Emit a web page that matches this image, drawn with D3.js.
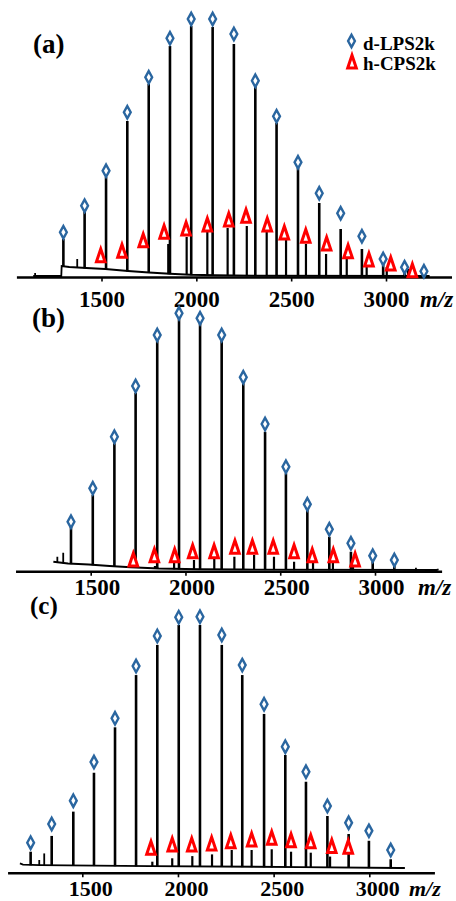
<!DOCTYPE html>
<html>
<head>
<meta charset="utf-8">
<script src="https://cdnjs.cloudflare.com/ajax/libs/d3/7.8.5/d3.min.js"></script>
<style>
  html, body { margin: 0; padding: 0; background: #fff; }
  svg { display: block; }
</style>
</head>
<body>
<svg id="chart" width="456" height="901"></svg>
<script>
// ---------------- DATA ----------------
const tickValues = [1500, 2000, 2500, 3000];
const axisTitle = "m/z";
const panelLabels = ["(a)", "(b)", "(c)"];
const legendLabels = ["d-LPS2k", "h-CPS2k"];

// Panel (a)
const aDMz   = [1299, 1411, 1524, 1636, 1749, 1861, 1973, 2086, 2198, 2311, 2423, 2536, 2648, 2761, 2873, 2985, 3098, 3200];
const aDInt  = [14.8, 25.6, 39.6, 62, 76.8, 92, 100, 99.6, 92.8, 76, 61.2, 43.2, 29.2, 18.8, 10.8, 6, 4.4, 2];
const aDMark = [17.5, 28.1, 42.1, 65.5, 79.5, 95.1, 102.8, 102.8, 96.8, 78.1, 63.9, 45.5, 33.1, 25.1, 15.9, 6.8, 3.5, 1.9];
const aHMz   = [1852, 1949, 2058, 2165, 2266, 2371, 2473, 2578, 2684, 2793, 2898, 3004, 3116];
const aHInt  = [12.8, 15.6, 17.6, 19.2, 20, 17.6, 14.8, 12.8, 8.8, 6.8, 4.8, 3.6, 2.8];
const aTriMz = [1496, 1608, 1720, 1830, 1946, 2058, 2171, 2262, 2374, 2464, 2577, 2687, 2800, 2910, 3025, 3139];
const aTriLv = [8.1, 9.9, 14.1, 17.5, 18.8, 20.4, 22.4, 23.9, 20.4, 17.2, 15.9, 12.8, 9.7, 6.4, 4.8, 2.1];
const aMinMz = [1150, 1372];
const aMinInt= [1.2, 6.8];
const aBaseMz= [1140, 1288, 1290, 1330, 1420, 1520, 1640, 1750, 1860, 1970, 2100, 2300, 3230];
const aBaseLv= [0, 0, 4, 3.6, 3.2, 2.8, 2, 1.4, 0.9, 0.5, 0.3, 0.1, 0];

// Panel (b)
const bDMz   = [1396, 1511, 1625, 1737, 1851, 1966, 2077, 2191, 2305, 2420, 2530, 2643, 2759, 2873, 2988, 3102];
const bDInt  = [17.3, 30, 50.7, 70.9, 91.7, 100.3, 98.7, 91.7, 74.7, 55.3, 38.7, 24, 13.3, 7.3, 3.3, 2];
const bDMark = [19.3, 32.7, 53.3, 73.6, 94, 102.7, 100.7, 94, 77.1, 58.4, 41.3, 26.3, 16.3, 10.7, 5.7, 4];
const bHMz   = [1839, 1940, 2045, 2152, 2258, 2362, 2467, 2573, 2673, 2778, 2884];
const bHInt  = [1.6, 3.3, 4, 4.8, 5.3, 6, 5.3, 3.3, 2.9, 2.8, 2];
const bTriMz = [1725, 1836, 1943, 2038, 2151, 2261, 2353, 2463, 2573, 2669, 2780, 2895];
const bTriLv = [4, 5.7, 5.7, 7.3, 7.3, 9.1, 9.1, 9.1, 7.3, 5.7, 5.7, 4];
const bMinMz = [1324, 1355, 3216, 3331];
const bMinInt= [5.3, 6.9, 0.9, 0.5];
const bBaseMz= [1303, 1380, 1490, 1600, 1710, 1860, 2070, 2300, 3330];
const bBaseLv= [3.3, 2.6, 2.2, 1.6, 1.1, 0.6, 0.3, 0.2, 0];

// Panel (c)
const cDMz   = [1230, 1340, 1453, 1561, 1671, 1781, 1892, 2004, 2115, 2229, 2336, 2450, 2561, 2669, 2781, 2892, 2998, 3112];
const cDInt  = [6.7, 13.2, 23.2, 39.2, 57.9, 79.4, 91.8, 100, 100, 91.8, 79.4, 63.4, 46.5, 35.5, 21.4, 14, 11.2, 3.6];
const cDMark = [10.4, 18.1, 27.7, 43.6, 61.6, 83.1, 95.5, 103.2, 103.4, 95.9, 83.5, 67.4, 49.9, 39.6, 25.5, 18.6, 15.3, 7.4];
const cHMz   = [1866, 1970, 2075, 2178, 2281, 2385, 2490, 2591, 2694, 2795];
const cHInt  = [2.6, 4, 4.9, 5.6, 7.4, 7.4, 7.7, 6.7, 6.3, 4.7];
const cTriMz = [1859, 1970, 2072, 2176, 2276, 2385, 2490, 2591, 2694, 2804, 2890];
const cTriLv = [8.1, 9.5, 9.5, 9.9, 10.8, 11.5, 12.2, 11.2, 10.8, 8.8, 8.5];
const cMinMz = [1275, 1301];
const cMinInt= [3.3, 6];
const cBaseMz= [1174, 1190, 1280, 1855, 2640, 3160, 3186];
const cBaseLv= [1.9, 1.4, 1.2, 0.8, 0.4, 0, 0];

// ---------------- LAYOUT ----------------
const panels = [
  { d:[aDMz,aDInt,aDMark], h:[aHMz,aHInt], tri:[aTriMz,aTriLv], min:[aMinMz,aMinInt], base:[aBaseMz,aBaseLv],
    x1500:101.5, x3000:386, zeroY:276, k:2.5, axisY:277.5, axisFrom:1054, axisTo:3348,
    labelDy:29, labelDx:0, titleX:420, fs:23, label:{x:33, y:53, size:27} },
  { d:[bDMz,bDInt,bDMark], h:[bHMz,bHInt], tri:[bTriMz,bTriLv], min:[bMinMz,bMinInt], base:[bBaseMz,bBaseLv],
    x1500:90.7, x3000:375, zeroY:570, k:2.5, axisY:571.7, axisFrom:1106, axisTo:3354,
    labelDy:23.3, labelDx:6, titleX:418, fs:23, label:{x:32, y:327, size:27} },
  { d:[cDMz,cDInt,cDMark], h:[cHMz,cHInt], tri:[cTriMz,cTriLv], min:[cMinMz,cMinInt], base:[cBaseMz,cBaseLv],
    x1500:82.3, x3000:369.3, zeroY:868, k:2.43, axisY:873.3, axisFrom:1112, axisTo:3343,
    labelDy:23, labelDx:8, titleX:409, fs:22, label:{x:30, y:614, size:25} }
];

const BLUE = "#2a66a0";
const RED = "#ff0000";
const serif = "'Liberation Serif', 'Times New Roman', 'DejaVu Serif', serif";

const svg = d3.select("#chart");
const diamondPath = "M0,-6.2 L3.4,0 L0,6.2 L-3.4,0 Z";
const trianglePath = "M0,-6.8 L4.3,6 L-4.3,6 Z";

panels.forEach((p, i) => {
  const g = svg.append("g");
  const x = d3.scaleLinear().domain([1500, 3000]).range([p.x1500, p.x3000]);
  const y = d3.scaleLinear().domain([0, 100]).range([p.zeroY, p.zeroY - 100 * p.k]);
  const base = d3.scaleLinear().domain(p.base[0]).range(p.base[1]).clamp(true);

  // axis line
  g.append("line")
    .attr("x1", x(p.axisFrom)).attr("x2", x(p.axisTo))
    .attr("y1", p.axisY).attr("y2", p.axisY)
    .attr("stroke", "#000").attr("stroke-width", 2.6);

  // ticks + labels
  const axis = d3.axisBottom(x).tickValues(tickValues).tickSize(4).tickSizeOuter(0).tickFormat(d3.format("d"));
  const ag = g.append("g").attr("transform", `translate(0,${p.axisY})`).call(axis);
  ag.select(".domain").remove();
  ag.selectAll(".tick line").attr("stroke", "#000").attr("stroke-width", 1.6);
  ag.selectAll(".tick text")
    .attr("y", p.labelDy).attr("dy", 0).attr("dx", p.labelDx)
    .attr("fill", "#000")
    .style("font-family", serif).style("font-weight", "bold").style("font-size", p.fs + "px");

  // axis title
  g.append("text")
    .attr("x", p.titleX).attr("y", p.axisY + p.labelDy)
    .style("font-family", serif).style("font-weight", "bold").style("font-style", "italic")
    .style("font-size", p.fs + "px").text(axisTitle);

  // baseline trace
  const basePts = p.base[0].map((m, j) => [m, p.base[1][j]]);
  g.append("path")
    .attr("d", d3.line().x(d => x(d[0])).y(d => y(d[1]))(basePts))
    .attr("fill", "none").attr("stroke", "#000").attr("stroke-width", 1.8);

  // peaks
  const peaks = [];
  p.d[0].forEach((m, j) => peaks.push({ m, v: p.d[1][j], w: 2.6 }));
  p.h[0].forEach((m, j) => peaks.push({ m, v: p.h[1][j], w: 2.2 }));
  p.min[0].forEach((m, j) => peaks.push({ m, v: p.min[1][j], w: 1.8 }));
  g.selectAll("line.peak").data(peaks).join("line")
    .attr("class", "peak")
    .attr("x1", d => x(d.m)).attr("x2", d => x(d.m))
    .attr("y1", d => y(base(d.m)) + 0.5).attr("y2", d => y(d.v))
    .attr("stroke", "#000").attr("stroke-width", d => d.w);

  // diamond markers (d-LPS2k)
  const dm = p.d[0].map((m, j) => ({ m, v: p.d[2][j] }));
  g.selectAll("path.dia").data(dm).join("path")
    .attr("class", "dia")
    .attr("d", diamondPath)
    .attr("transform", d => `translate(${x(d.m)},${y(d.v)})`)
    .attr("fill", "#fff").attr("stroke", BLUE).attr("stroke-width", 2.4);

  // triangle markers (h-CPS2k)
  const tm = p.tri[0].map((m, j) => ({ m, v: p.tri[1][j] }));
  g.selectAll("path.tri").data(tm).join("path")
    .attr("class", "tri")
    .attr("d", trianglePath)
    .attr("transform", d => `translate(${x(d.m)},${y(d.v)})`)
    .attr("fill", "#fff").attr("stroke", RED).attr("stroke-width", 3)
    .attr("stroke-linejoin", "miter");

  // panel label
  g.append("text")
    .attr("x", p.label.x).attr("y", p.label.y)
    .style("font-family", serif).style("font-weight", "bold")
    .style("font-size", p.label.size + "px").text(panelLabels[i]);
});

// legend (in panel a)
const lg = svg.append("g");
lg.append("path").attr("d", diamondPath).attr("transform", "translate(351.5,41)")
  .attr("fill", "#fff").attr("stroke", BLUE).attr("stroke-width", 2.4);
lg.append("path").attr("d", trianglePath).attr("transform", "translate(352,62)")
  .attr("fill", "#fff").attr("stroke", RED).attr("stroke-width", 3);
lg.selectAll("text").data(legendLabels).join("text")
  .attr("x", 363).attr("y", (d, i) => 50 + i * 20)
  .style("font-family", serif).style("font-weight", "bold").style("font-size", "19px")
  .text(d => d);
</script>
</body>
</html>
